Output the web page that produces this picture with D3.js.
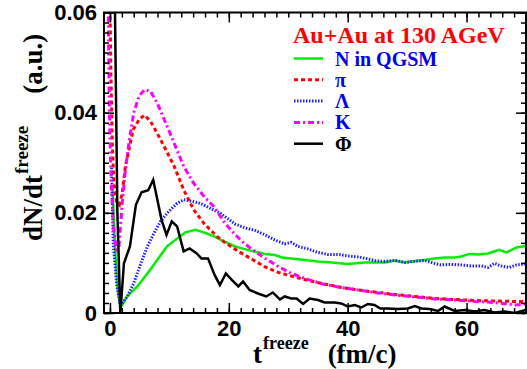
<!DOCTYPE html>
<html>
<head>
<meta charset="utf-8">
<script src="https://cdn.jsdelivr.net/npm/d3@7"></script>
<style>
  body { margin: 0; background: #fff; }
  svg { display: block; }
  .tick text { font-family: "Liberation Sans", Arial, sans-serif; font-weight: bold; }
  .ttl { font-family: "Liberation Serif", "Times New Roman", serif; font-weight: bold; }
</style>
</head>
<body>
<script>
// freeze-out time (fm/c) vs dN/dt
var nucleon = [[0.45,0.0246],[0.9,0.012],[1.3,0.005],[1.75,0.001],[2.9,0.0033],[4.6,0.0053],[6.3,0.0079],
  [7.95,0.0106],[9.6,0.0133],[11.0,0.0146],[12.7,0.0161],[14.4,0.0166],[15.8,0.0161],[17.5,0.0153],[19.2,0.0143],
  [21,0.0133],[23.5,0.0125],[26.1,0.0118],[27.7,0.0116],[28.9,0.0111],[30.5,0.0109],[32.8,0.0106],[35,0.0103],
  [37.3,0.0101],[40,0.0098],[42.9,0.0101],[44.5,0.0101],[46.2,0.0101],[47.9,0.0105],[49.6,0.0101],[51.3,0.0104],
  [52.9,0.0106],[54.6,0.0109],[56.3,0.0111],[58,0.0111],[59.1,0.0113],[60.5,0.0118],[61.9,0.0117],[63.6,0.0119],
  [65.5,0.0126],[66.7,0.0121],[68.4,0.0131],[70,0.0134]];
var pion = [[0,0.062],[0.17,0.047],[0.39,0.034],[0.67,0.026],[1.1,0.0223],[1.6,0.0216],[2.07,0.024],[2.6,0.0293],
  [3.2,0.0326],[3.9,0.0366],[4.9,0.0386],[5.8,0.0395],[6.8,0.0383],[7.95,0.0359],[9.4,0.0326],[10.8,0.0293],
  [12.4,0.0246],[14.1,0.0206],[15.8,0.0179],[18.0,0.0153],[19.3,0.0141],[21.6,0.0123],[23.8,0.0108],[26.1,0.0092],
  [28.3,0.0081],[30.5,0.0074],[33.3,0.0065],[36.1,0.0058],[38.9,0.0051],[41.7,0.0046],[45.1,0.0041],[47.9,0.0037],
  [51.3,0.0033],[54.6,0.0029],[58,0.0027],[61.4,0.0025],[64.7,0.0024],[68.1,0.0023],[70,0.0023]];
var lambda = [[0.28,0.029],[0.55,0.014],[1.1,0.006],[1.75,0.0015],[2.9,0.0033],[4.0,0.0059],[5.2,0.0099],
  [6.3,0.0133],[7.4,0.0159],[8.5,0.0183],[9.9,0.0203],[11.3,0.0219],[12.4,0.0226],[13.8,0.0223],[15.2,0.0219],
  [16.9,0.0209],[18.6,0.0199],[19.3,0.0193],[21,0.0178],[22.7,0.0170],[24.4,0.0165],[26.1,0.0156],[27.7,0.0146],
  [29.4,0.0138],[30.5,0.0141],[31.6,0.0133],[33.3,0.0128],[35,0.0121],[36.7,0.0117],[38.4,0.0117],[40,0.0114],
  [41.7,0.0112],[43.4,0.0108],[44.8,0.0104],[46.2,0.0103],[47.9,0.0105],[49.6,0.0101],[51.3,0.0103],[52.9,0.0105],
  [54.6,0.0099],[55.7,0.0096],[57.4,0.0097],[59.1,0.0096],[60.8,0.0094],[62.5,0.0094],[63.6,0.0091],[64.7,0.0099],
  [65.8,0.0094],[67.2,0.0091],[68.4,0.0096],[70,0.0098]];
var kaon = [[-0.3,0.062],[-0.1,0.0406],[0.17,0.0273],[0.55,0.0173],[1.1,0.0126],[1.5,0.013],[2.07,0.022],
  [2.6,0.0286],[3.2,0.034],[4.0,0.040],[4.9,0.0433],[5.8,0.0446],[6.8,0.0443],[7.95,0.0419],[9.4,0.0379],
  [10.8,0.0339],[12.4,0.0293],[14.1,0.0259],[15.8,0.0233],[17.5,0.0212],[19.3,0.0180],[20.8,0.0160],[22.2,0.0143],
  [23.8,0.0128],[26.1,0.0109],[28.3,0.0093],[30.5,0.0079],[33.3,0.0067],[36.1,0.0057],[38.9,0.0051],[41.7,0.0046],
  [45.1,0.0040],[47.9,0.0036],[51.3,0.0032],[54.6,0.0028],[58,0.0026],[61.4,0.0023],[64.7,0.0021],[68.1,0.0016],
  [70,0.0018]];
var phi = [[0.8,0.065],[1.25,0.02],[1.75,0.0],[2.35,0.0099],[3.36,0.0133],[4.37,0.0216],[5.32,0.0241],
  [6.44,0.0245],[7.28,0.0266],[8.68,0.0186],[9.52,0.0156],[10.4,0.0183],[11.3,0.0173],[12.4,0.0123],[13.4,0.0129],
  [14.6,0.0119],[15.4,0.0109],[16.5,0.0109],[17.6,0.0076],[18.5,0.0056],[19.5,0.0079],[20.5,0.0066],[21.6,0.0053],
  [22.4,0.0063],[23.5,0.0046],[24.9,0.0039],[26.3,0.0033],[27.4,0.0041],[28.6,0.0027],[29.4,0.0033],[30.5,0.0029],
  [31.4,0.0029],[32.5,0.0018],[33.6,0.0029],[35,0.0026],[36.1,0.0021],[37.8,0.0021],[38.9,0.0019],[40,0.0013],
  [41.2,0.0016],[42.3,0.0011],[43.4,0.0018],[44.5,0.0016],[45.5,0.0009],[46.7,0.0009],[48.4,0.0008],[50.1,0.0009],
  [51.3,0.0014],[52.4,0.0009],[53.8,0.0008],[55.2,0.0004],[56.3,0.0013],[58,0.0004],[59.7,0.0006],[61.4,0.0003],
  [63,0.0006],[64.7,0.0001],[66.4,0.0003],[68.1,0.0],[70,0.0006]];

var xTicks = [0, 20, 40, 60];
var yTicks = [0, 0.02, 0.04, 0.06];
var labels = ['N in QGSM', '\u03c0', '\u039b', 'K', '\u03a6'];

var width = 527, height = 369;
var margin = {top: 12.5, right: 1, bottom: 56, left: 104};

var svg = d3.select('body').append('svg')
    .attr('width', width)
    .attr('height', height);

var x = d3.scaleLinear().domain([-1, 70]).range([margin.left, width - margin.right]);
var y = d3.scaleLinear().domain([0, 0.06]).range([height - margin.bottom, margin.top]);

var series = [
  {data: nucleon, color: '#00ee00', dash: null, w: 2.5},
  {data: pion, color: '#ff0000', dash: '4,3', w: 3},
  {data: lambda, color: '#2222ff', dash: '1.5,1.5', w: 3},
  {data: kaon, color: '#ff00ff', dash: '6,3,2,3', w: 3},
  {data: phi, color: '#000000', dash: null, w: 2.5}
];

svg.append('clipPath').attr('id', 'clip')
  .append('rect')
    .attr('x', x(-1)).attr('y', y(0.06))
    .attr('width', x(70) - x(-1)).attr('height', y(0) - y(0.06));

var line = d3.line()
    .x(function (d) { return x(d[0]); })
    .y(function (d) { return y(d[1]); });

svg.append('g').attr('clip-path', 'url(#clip)')
  .selectAll('path')
  .data(series)
  .enter().append('path')
    .attr('d', function (d) { return line(d.data); })
    .attr('fill', 'none')
    .attr('stroke', function (d) { return d.color; })
    .attr('stroke-width', function (d) { return d.w; })
    .attr('stroke-dasharray', function (d) { return d.dash; });

// axes: major and minor ticks, pointing inwards on all four sides
var xMinor = d3.range(0, 71, 2);
var yMinor = d3.range(0, 31).map(function (i) { return i * 0.002; });

function styleAxis(g) {
  g.select('.domain').remove();
  g.selectAll('.tick line').attr('stroke', '#000').attr('stroke-width', 1.5);
}

svg.append('g').attr('transform', 'translate(0,' + y(0) + ')')
  .call(d3.axisBottom(x).tickValues(xMinor).tickSize(-5).tickFormat(''))
  .call(styleAxis);
svg.append('g').attr('transform', 'translate(0,' + y(0) + ')')
  .call(d3.axisBottom(x).tickValues(xTicks).tickSize(-10).tickPadding(7).tickFormat(d3.format('d')))
  .call(styleAxis)
  .selectAll('text').attr('font-size', 22).attr('fill', '#000');
svg.append('g').attr('transform', 'translate(0,' + y(0.06) + ')')
  .call(d3.axisTop(x).tickValues(xMinor).tickSize(-5).tickFormat(''))
  .call(styleAxis);
svg.append('g').attr('transform', 'translate(0,' + y(0.06) + ')')
  .call(d3.axisTop(x).tickValues(xTicks).tickSize(-10).tickFormat(''))
  .call(styleAxis);

svg.append('g').attr('transform', 'translate(' + x(-1) + ',0)')
  .call(d3.axisLeft(y).tickValues(yMinor).tickSize(-5).tickFormat(''))
  .call(styleAxis);
svg.append('g').attr('transform', 'translate(' + x(-1) + ',0)')
  .call(d3.axisLeft(y).tickValues(yTicks).tickSize(-10).tickPadding(7)
    .tickFormat(function (d) { return d === 0 ? '0' : d3.format('.2f')(d); }))
  .call(styleAxis)
  .selectAll('text').attr('font-size', 22).attr('fill', '#000');
svg.append('g').attr('transform', 'translate(' + x(70) + ',0)')
  .call(d3.axisRight(y).tickValues(yMinor).tickSize(-5).tickFormat(''))
  .call(styleAxis);
svg.append('g').attr('transform', 'translate(' + x(70) + ',0)')
  .call(d3.axisRight(y).tickValues(yTicks).tickSize(-10).tickFormat(''))
  .call(styleAxis);

svg.append('rect')
    .attr('x', x(-1)).attr('y', y(0.06))
    .attr('width', x(70) - x(-1)).attr('height', y(0) - y(0.06))
    .attr('fill', 'none').attr('stroke', '#000').attr('stroke-width', 2);

// axis titles
var xt = svg.append('text').attr('class', 'ttl').attr('x', 253).attr('y', 363).attr('font-size', 27);
xt.append('tspan').text('t');
xt.append('tspan').attr('font-size', 18).attr('dy', -14).attr('dx', 1).text('freeze');
xt.append('tspan').attr('dy', 14).attr('dx', 19).text('(fm/c)');

var yt = svg.append('text').attr('class', 'ttl')
    .attr('transform', 'translate(42,241) rotate(-90)').attr('font-size', 27);
yt.append('tspan').text('dN/dt');
yt.append('tspan').attr('font-size', 19).attr('dy', -14).attr('dx', 1).text('freeze');
yt.append('tspan').attr('dy', 14).attr('dx', 32).text('(a.u.)');

// legend
svg.append('text').attr('class', 'ttl')
    .attr('x', 293).attr('y', 43).attr('font-size', 24).attr('fill', '#ff0000')
    .text('Au+Au at 130 AGeV');

var leg = svg.append('g').selectAll('g')
    .data(series)
    .enter().append('g')
    .attr('transform', function (d, i) { return 'translate(0,' + (58.5 + i * 21.3) + ')'; });

leg.append('line')
    .attr('x1', 294).attr('x2', 323)
    .attr('stroke', function (d) { return d.color; })
    .attr('stroke-width', function (d) { return d.w; })
    .attr('stroke-dasharray', function (d) { return d.dash; });

leg.append('text').attr('class', 'ttl')
    .attr('x', 335).attr('y', 7).attr('font-size', 20)
    .attr('fill', function (d, i) { return i === 4 ? '#000' : '#0000ee'; })
    .text(function (d, i) { return labels[i]; });
</script>
</body>
</html>
